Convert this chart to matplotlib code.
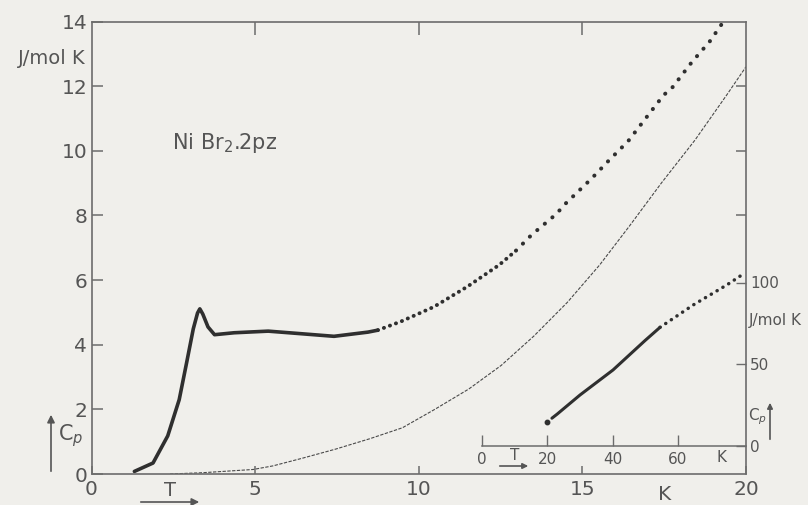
import numpy as np
import matplotlib
matplotlib.use("Agg")
import matplotlib.pyplot as plt
from matplotlib.patches import FancyArrowPatch

# specific heat of NiBr2.2pz, 0-20 K (J/mol K)
T_low = [1.31, 1.88, 2.33, 2.68, 2.91, 3.11, 3.24, 3.31, 3.40, 3.56, 3.76, 4.36, 5.40, 6.41, 7.41, 8.45, 8.75]
Cp_low = [0.08, 0.34, 1.18, 2.30, 3.46, 4.49, 4.98, 5.11, 4.95, 4.55, 4.31, 4.37, 4.42, 4.34, 4.26, 4.39, 4.45]
T_high = [8.75, 9.46, 10.46, 11.49, 12.46, 12.97, 13.45, 14.20, 14.48, 15.28, 15.79, 16.40,
          17.00, 17.48, 17.75, 18.35, 18.89, 19.30]
Cp_high = [4.45, 4.72, 5.17, 5.80, 6.47, 6.91, 7.40, 8.04, 8.36, 9.14, 9.68, 10.30,
           11.09, 11.72, 11.96, 12.75, 13.38, 13.98]

# lattice contribution
T_lat = [2.4, 3.4, 4.94, 5.54, 6.45, 7.46, 8.5, 9.5, 10.49, 11.53, 12.52, 13.52, 14.54,
         15.53, 16.43, 17.42, 18.44, 19.42, 20.0]
Cp_lat = [0.0, 0.04, 0.14, 0.25, 0.49, 0.77, 1.09, 1.43, 2.00, 2.63, 3.36, 4.27, 5.31,
          6.47, 7.66, 9.01, 10.33, 11.74, 12.6]

# high temperature data for the inset, 20-80 K
T_ins_first, Cp_ins_first = [19.9], [14.5]
T_ins = [21.4, 23.0, 30.0, 40.1, 49.9, 54.5]
Cp_ins = [17.0, 19.5, 31.2, 46.5, 64.5, 72.6]
T_ins_dots = [54.5, 59.7, 64.6, 69.8, 75.0, 80.2]
Cp_ins_dots = [72.6, 79.6, 86.2, 92.4, 98.6, 105.5]

main_xticks = [0, 5, 10, 15, 20]
main_yticks = [0, 2, 4, 6, 8, 10, 12, 14]
ins_xticks = [0, 20, 40, 60]
ins_yticks = [0, 50, 100]

BG = "#f0efeb"
INK = "#2f2f2f"
TXT = "#555555"
AXC = "#6c6c6c"

W, H = 808, 505


def fx(x):
    return x / W


def fy(y):
    return 1 - y / H


fig = plt.figure(figsize=(W / 100, H / 100), dpi=100, facecolor=BG)

ax = fig.add_axes([fx(91.5), fy(474), (746 - 91.5) / W, (474 - 21.5) / H])
ax.set_facecolor(BG)
ax.set_xlim(0, 20)
ax.set_ylim(0, 14)
for s in ax.spines.values():
    s.set_color(AXC)
    s.set_linewidth(1.2)
ax.set_xticks(main_xticks)
ax.set_yticks(main_yticks)
ax.tick_params(axis="x", direction="in", length=6, width=1.1, color=AXC,
               labelcolor=TXT, labelsize=14.5, pad=4)
ax.tick_params(axis="y", direction="in", length=8, width=1.1, color=AXC,
               labelcolor=TXT, labelsize=14.5, pad=3)

# ticks on top and right edge
ax_top = ax.twiny()
ax_top.set_xlim(0, 20)
ax_top.set_xticks([5, 10, 15])
ax_top.tick_params(axis="x", direction="in", length=9, width=1.1, color=AXC, labeltop=False)
ax_r = ax.twinx()
ax_r.set_ylim(0, 14)
ax_r.set_yticks([8, 10, 12])
ax_r.tick_params(axis="y", direction="in", length=7, width=1.1, color=AXC, labelright=False)
for a in (ax_top, ax_r):
    for s in a.spines.values():
        s.set_visible(False)

ax.plot(T_low, Cp_low, color=INK, lw=2.6, solid_capstyle="round", solid_joinstyle="round")
ax.plot(T_high[:6], Cp_high[:6], color=INK, lw=2.8, linestyle=(0, (0.05, 1.6)),
        dash_capstyle="round")
ax.plot(T_high[5:], Cp_high[5:], color=INK, lw=2.9, linestyle=(0, (0.05, 2.4)),
        dash_capstyle="round")
ax.plot(T_lat, Cp_lat, color="#4a4a4a", lw=0.8, linestyle=(0, (3, 1.3)))

# inset, 0-80 K
axin = fig.add_axes([fx(482), fy(446), (746 - 482) / W, 327 / H])
axin.patch.set_visible(False)
axin.set_xlim(0, 80.8)
axin.set_ylim(0, 200)
for k in ("top", "left", "right"):
    axin.spines[k].set_visible(False)
axin.spines["bottom"].set_color(AXC)
axin.spines["bottom"].set_linewidth(1.1)
axin.set_xticks(ins_xticks)
axin.tick_params(axis="x", direction="in", length=8, width=1.0, color=AXC,
                 labelcolor=TXT, labelsize=11, pad=4)
axin.yaxis.tick_right()
axin.set_yticks(ins_yticks)
axin.tick_params(axis="y", direction="in", length=7, width=1.0, color=AXC,
                 labelcolor=TXT, labelsize=11, pad=3)
axin.plot(T_ins_first, Cp_ins_first, "o", color=INK, ms=3.2)
axin.plot(T_ins, Cp_ins, color=INK, lw=2.2, solid_capstyle="round")
axin.plot(T_ins_dots, Cp_ins_dots, color=INK, lw=2.5, linestyle=(0, (0.05, 1.9)),
          dash_capstyle="round")

# labels
fig.text(fx(52), fy(58), "J/mol K", color=TXT, fontsize=14, ha="center", va="center")
fig.text(fx(172), fy(143), "Ni Br$_2$.2pz", color=TXT, fontsize=15, ha="left", va="center")
fig.text(fx(58), fy(436), "C$_p$", color=TXT, fontsize=15, ha="left", va="center")
fig.text(fx(170), fy(490), "T", color=TXT, fontsize=14, ha="center", va="center")
fig.text(fx(665), fy(494), "K", color=TXT, fontsize=14.5, ha="center", va="center")

fig.text(fx(515), fy(456), "T", color=TXT, fontsize=11, ha="center", va="center")
fig.text(fx(722), fy(458), "K", color=TXT, fontsize=11, ha="center", va="center")
fig.text(fx(749), fy(320), "J/mol K", color=TXT, fontsize=11, ha="left", va="center")
fig.text(fx(748), fy(417), "C$_p$", color=TXT, fontsize=11, ha="left", va="center")

arrows = [
    ((51, 474), (51, 412), 11),
    ((138, 502), (202, 502), 11),
    ((497, 466), (531, 466), 8),
    ((770, 442), (770, 400), 8),
]
for (x0, y0), (x1, y1), m in arrows:
    fig.add_artist(FancyArrowPatch((fx(x0), fy(y0)), (fx(x1), fy(y1)),
                                   transform=fig.transFigure, arrowstyle="-|>",
                                   mutation_scale=m, color=TXT, lw=1.2))

fig.savefig("out.png", dpi=100, facecolor=BG)
